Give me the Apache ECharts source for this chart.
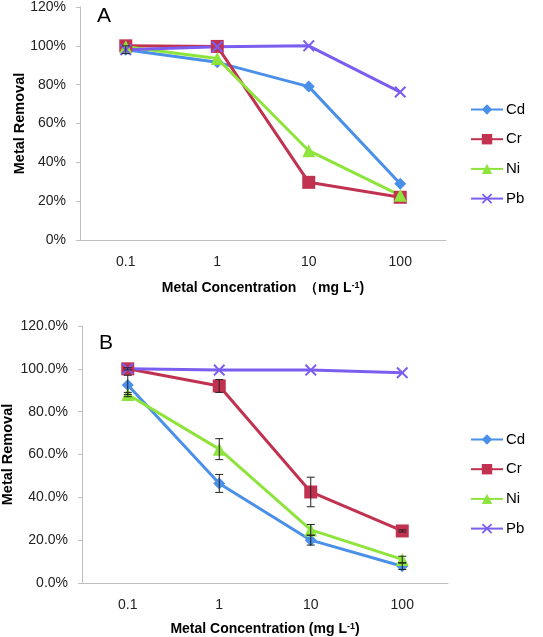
<!DOCTYPE html>
<html>
<head>
<meta charset="utf-8">
<script src="https://cdn.jsdelivr.net/npm/echarts@6/dist/echarts.min.js"></script>
<style>html,body{margin:0;padding:0;background:#fff}#c{width:543px;height:637px}</style>
</head>
<body>
<div id="c"></div>
<script>
var categories = ['0.1', '1', '10', '100'];
var seriesNames = ['Cd', 'Cr', 'Ni', 'Pb'];
// Panel A values (%)
var A_Cd = [98, 91.5, 79, 29];
var A_Cr = [100, 99.7, 29.7, 22];
var A_Ni = [99.5, 93.5, 46, 23];
var A_Pb = [98, 99.5, 100, 76.2];
// Panel A error (%)
var A_errCd = [2, 0, 0, 0];
// Panel B values (%)
var B_Cd = [92.5, 46.5, 20, 7.8];
var B_Cr = [100, 92, 42.5, 24.3];
var B_Ni = [88, 62.5, 24.8, 11];
var B_Pb = [100, 99.4, 99.4, 98.2];
// Panel B errors (%)
var B_errCd = [4.5, 4.2, 2.3, 1.5];
var B_errCr = [0.5, 3, 6.9, 0.5];
var B_errNi = [1, 4.9, 2.5, 1.5];

var colors = {Cd: '#4A90E8', Cr: '#C0324F', Ni: '#8EE43C', Pb: '#7B5EF0'};
var symbols = {
  Cd: 'diamond',
  Cr: 'rect',
  Ni: 'triangle',
  Pb: 'path://M0,1.2L1.2,0L5,3.8L8.8,0L10,1.2L6.2,5L10,8.8L8.8,10L5,6.2L1.2,10L0,8.8L3.8,5Z'
};
var sizes = {Cd: 12, Cr: 13, Ni: 13, Pb: 12};
var FONT = '"Liberation Sans", Arial, sans-serif';

function lineSeries(name, data, idx) {
  return {
    type: 'line', name: name, data: data,
    xAxisIndex: idx, yAxisIndex: idx,
    symbol: symbols[name], symbolSize: sizes[name],
    lineStyle: {color: colors[name], width: 3},
    itemStyle: {color: colors[name]},
    z: 2
  };
}
function errSeries(vals, errs, idx) {
  var d = [];
  for (var i = 0; i < vals.length; i++) {
    if (errs[i] > 0) d.push([i, vals[i] - errs[i], vals[i] + errs[i]]);
  }
  return {
    type: 'custom', xAxisIndex: idx, yAxisIndex: idx, z: 3, silent: true,
    data: d,
    renderItem: function (params, api) {
      var lo = api.coord([api.value(0), api.value(1)]);
      var hi = api.coord([api.value(0), api.value(2)]);
      var w = 4;
      var st = {stroke: '#222', lineWidth: 1};
      return {type: 'group', children: [
        {type: 'line', shape: {x1: lo[0], y1: lo[1], x2: hi[0], y2: hi[1]}, style: st},
        {type: 'line', shape: {x1: lo[0] - w, y1: lo[1], x2: lo[0] + w, y2: lo[1]}, style: st},
        {type: 'line', shape: {x1: hi[0] - w, y1: hi[1], x2: hi[0] + w, y2: hi[1]}, style: st}
      ]};
    }
  };
}
function xAxis(idx, name) {
  return {
    type: 'category', gridIndex: idx, data: categories, boundaryGap: true,
    axisLine: {lineStyle: {color: '#BFBFBF', width: 1}},
    axisTick: {show: false},
    axisLabel: {color: '#222', fontSize: 14, fontFamily: FONT, margin: 15},
    name: name, nameLocation: 'middle', nameGap: idx === 0 ? 41 : 39, nameMoveOverlap: false,
    nameTextStyle: {
      color: '#000', fontSize: 14, fontWeight: 'bold', fontFamily: FONT,
      rich: {
        t: {fontSize: 14, fontWeight: 'bold', fontFamily: FONT, color: '#000'},
        s: {fontSize: 9, fontWeight: 'bold', fontFamily: FONT, color: '#000', verticalAlign: 'top', padding: [0, 0, 6, 0]}
      }
    }
  };
}
function yAxis(idx, fmt) {
  return {
    type: 'value', gridIndex: idx, min: 0, max: 120, interval: 20,
    axisLine: {show: true, lineStyle: {color: '#BFBFBF', width: 1}},
    axisTick: {show: true, length: 4, lineStyle: {color: '#BFBFBF'}},
    splitLine: {show: false},
    axisLabel: {color: '#222', fontSize: 14, fontFamily: FONT, margin: 14, formatter: fmt},
    name: 'Metal Removal', nameLocation: 'middle', nameGap: idx === 0 ? 53 : 67, nameMoveOverlap: false,
    nameTextStyle: {color: '#000', fontSize: 14.5, fontWeight: 'bold', fontFamily: FONT}
  };
}
function legend(top) {
  return {
    orient: 'vertical', left: 470, top: top, padding: 0, itemWidth: 32, itemHeight: 13, itemGap: 14.7,
    data: seriesNames, selectedMode: false,
    textStyle: {color: '#000', fontSize: 15, fontFamily: FONT, padding: [0, 0, 0, -2]}
  };
}

var chart = echarts.init(document.getElementById('c'), null, {renderer: 'canvas'});
var series = [
  lineSeries('Cd', A_Cd, 0), lineSeries('Cr', A_Cr, 0), lineSeries('Ni', A_Ni, 0), lineSeries('Pb', A_Pb, 0),
  errSeries(A_Cd, A_errCd, 0),
  lineSeries('Cd', B_Cd, 1), lineSeries('Cr', B_Cr, 1), lineSeries('Ni', B_Ni, 1), lineSeries('Pb', B_Pb, 1),
  errSeries(B_Cd, B_errCd, 1), errSeries(B_Cr, B_errCr, 1), errSeries(B_Ni, B_errNi, 1)
];
chart.setOption({
  animation: false,
  backgroundColor: '#fff',
  grid: [
    {left: 80, top: 7, width: 366, height: 233, containLabel: false, outerBoundsMode: 'none'},
    {left: 82, top: 326, width: 366, height: 257, containLabel: false, outerBoundsMode: 'none'}
  ],
  xAxis: [
    xAxis(0, '{t|Metal Concentration  （mg L}{s|-1}{t|)}'),
    xAxis(1, '{t|Metal Concentration (mg L}{s|-1}{t|)}')
  ],
  yAxis: [
    yAxis(0, function (v) { return v + '%'; }),
    yAxis(1, function (v) { return v.toFixed(1) + '%'; })
  ],
  legend: [legend(102), legend(432)],
  graphic: [
    {type: 'text', left: 97, top: 6, style: {text: 'A', fontSize: 21, fontFamily: FONT, fill: '#000'}},
    {type: 'text', left: 99, top: 333, style: {text: 'B', fontSize: 21, fontFamily: FONT, fill: '#000'}}
  ],
  series: series
});
</script>
</body>
</html>
